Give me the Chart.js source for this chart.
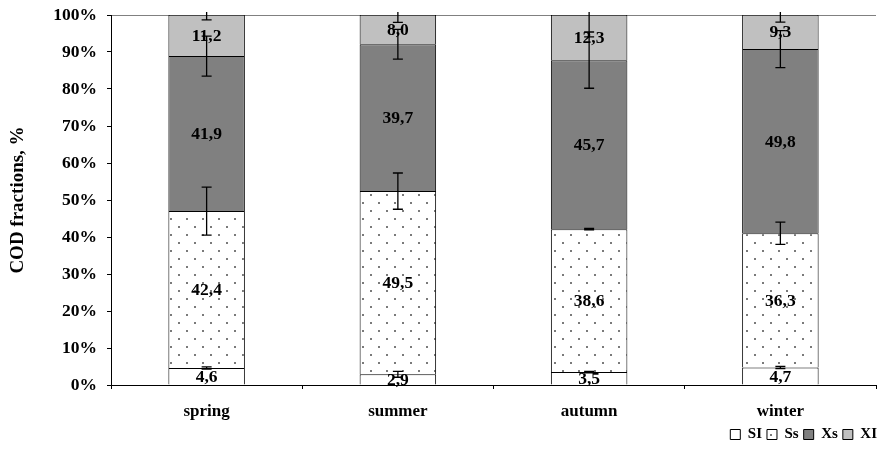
<!DOCTYPE html>
<html>
<head>
<meta charset="utf-8">
<script src="https://cdn.jsdelivr.net/npm/chart.js@4.4.1/dist/chart.umd.min.js"></script>
<style>
  html, body { margin: 0; padding: 0; background: #fff; }
  #wrap { width: 882px; height: 452px; }
</style>
</head>
<body>
<div id="wrap"><canvas id="codChart" width="882" height="452"></canvas></div>
<script>
// data
const seasons = ["spring", "summer", "autumn", "winter"];
const siValues = [4.6, 2.9, 3.5, 4.7];
const ssValues = [42.4, 49.5, 38.6, 36.3];
const xsValues = [41.9, 39.7, 45.7, 49.8];
const xiValues = [11.2, 8.0, 12.3, 9.3];
// error bar half-lengths (%)
const siErr = [0.3, 0.8, 0.2, 0.3];
const ssErr = [6.5, 4.9, 0.2, 3.0];
const xsErr = [5.4, 4.0, 7.6, 5.0];
const xiErr = [1.4, 2.1, 6.0, 2.0];
const yTicks = [0, 10, 20, 30, 40, 50, 60, 70, 80, 90, 100];

const serif = "'Liberation Serif', 'Times New Roman', serif";

// dotted fill for Ss
function dotPattern() {
  const c = document.createElement("canvas");
  c.width = 16;
  c.height = 16;
  const g = c.getContext("2d");
  g.fillStyle = "#fff";
  g.fillRect(0, 0, 16, 16);
  g.fillStyle = "#7a7a7a";
  g.fillRect(2, 2, 2, 2);
  g.fillRect(10, 10, 2, 2);
  return g.createPattern(c, "repeat");
}

const errors = [siErr, ssErr, xsErr, xiErr];

const errorBars = {
  id: "errorBars",
  afterDatasetsDraw(chart) {
    const ctx = chart.ctx;
    const y = chart.scales.y;
    const area = chart.chartArea;
    ctx.save();
    ctx.beginPath();
    ctx.rect(area.left, area.top - 3, area.right - area.left, area.bottom - area.top + 3);
    ctx.clip();
    ctx.strokeStyle = "#000";
    ctx.lineWidth = 1.3;
    chart.data.datasets.forEach((ds, i) => {
      const meta = chart.getDatasetMeta(i);
      meta.data.forEach((bar, j) => {
        let top = 0;
        for (let k = 0; k <= i; k++) top += chart.data.datasets[k].data[j];
        const e = errors[i][j];
        const y1 = y.getPixelForValue(top + e);
        const y2 = y.getPixelForValue(top - e);
        const x = bar.x;
        ctx.beginPath();
        ctx.moveTo(x, y1); ctx.lineTo(x, y2);
        ctx.moveTo(x - 5, y1); ctx.lineTo(x + 5, y1);
        ctx.moveTo(x - 5, y2); ctx.lineTo(x + 5, y2);
        ctx.stroke();
      });
    });
    ctx.restore();
  }
};

const valueLabels = {
  id: "valueLabels",
  afterDatasetsDraw(chart) {
    const ctx = chart.ctx;
    ctx.save();
    ctx.font = "bold 17.5px " + serif;
    ctx.fillStyle = "#000";
    ctx.textAlign = "center";
    ctx.textBaseline = "middle";
    chart.data.datasets.forEach((ds, i) => {
      chart.getDatasetMeta(i).data.forEach((bar, j) => {
        const txt = ds.data[j].toFixed(1).replace(".", ",");
        ctx.fillText(txt, bar.x, (bar.y + bar.base) / 2 + 1);
      });
    });
    ctx.restore();
  }
};

const barStyle = { borderColor: "#000", borderWidth: 1, categoryPercentage: 1.0, barPercentage: 0.4 };

new Chart(document.getElementById("codChart").getContext("2d"), {
  type: "bar",
  data: {
    labels: seasons,
    datasets: [
      { label: "SI", data: siValues, backgroundColor: "#fff", ...barStyle },
      { label: "Ss", data: ssValues, backgroundColor: dotPattern(), ...barStyle },
      { label: "Xs", data: xsValues, backgroundColor: "#808080", ...barStyle },
      { label: "XI", data: xiValues, backgroundColor: "#c0c0c0", ...barStyle },
    ],
  },
  options: {
    responsive: false,
    animation: false,
    layout: { padding: { top: 15, right: 0, left: 0, bottom: 0 } },
    plugins: {
      tooltip: { enabled: false },
      legend: {
        position: "bottom",
        align: "end",
        labels: {
          boxWidth: 10,
          boxHeight: 10,
          padding: 5,
          color: "#000",
          font: { family: serif, size: 15, weight: "bold", lineHeight: 1 },
        },
      },
    },
    scales: {
      x: {
        stacked: true,
        grid: { display: true, drawOnChartArea: false, offset: true, tickLength: 4, color: "#000" },
        border: { color: "#000", width: 1 },
        ticks: { color: "#000", padding: 12, font: { family: serif, size: 17, weight: "bold" } },
        afterFit: (s) => { s.height = 37; s.paddingLeft = 0; s.paddingRight = 0; },
      },
      y: {
        stacked: true,
        min: 0,
        max: 100,
        afterBuildTicks: (s) => { s.ticks = yTicks.map((v) => ({ value: v })); },
        grid: {
          tickLength: 4,
          tickColor: "#000",
          color: (c) => (c.tick && c.tick.value === 100 ? "#808080" : "rgba(0,0,0,0)"),
        },
        border: { color: "#000", width: 1 },
        ticks: {
          color: "#000",
          padding: 10,
          font: { family: serif, size: 17.5, weight: "bold" },
          callback: (v) => v + "%",
        },
        title: {
          display: true,
          text: "COD fractions, %",
          color: "#000",
          padding: { top: 7, bottom: 0 },
          font: { family: serif, size: 19, weight: "bold" },
        },
        afterFit: (s) => { s.width = 111; s.paddingTop = 0; s.paddingBottom = 0; },
      },
      // spacer keeping the plot area off the right edge
      yRight: {
        position: "right",
        display: true,
        grid: { display: false },
        border: { display: false },
        ticks: { display: false },
        afterFit: (s) => { s.width = 6; s.paddingTop = 0; s.paddingBottom = 0; },
      },
    },
  },
  plugins: [errorBars, valueLabels],
});
</script>
</body>
</html>
